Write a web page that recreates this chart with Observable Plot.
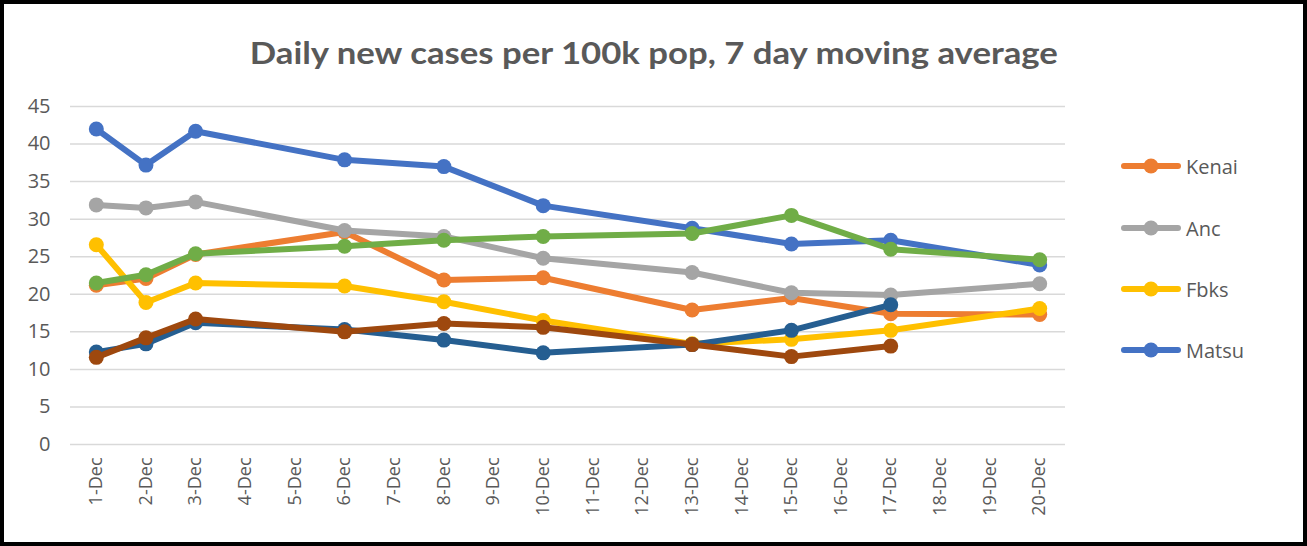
<!DOCTYPE html>
<html>
<head>
<meta charset="utf-8">
<script src="https://cdn.jsdelivr.net/npm/d3@7"></script>
<script src="https://cdn.jsdelivr.net/npm/@observablehq/plot@0.6"></script>
<style>
  html, body { margin: 0; padding: 0; background: #fff; }
  #wrap { position: relative; width: 1307px; height: 546px; overflow: hidden; background: #fff; font-family: "Open Sans", sans-serif; }
  #frame { position: absolute; left: 0; top: 0; width: 1307px; height: 546px; box-sizing: border-box; border: 4px solid #000; pointer-events: none; }
  #title { position: absolute; left: 0; top: 30px; width: 1307px; text-align: center; font-family: Lato, "Open Sans", sans-serif; font-weight: bold; font-size: 31px; color: #595959; white-space: nowrap; line-height: 44px; }
  #title span { display: inline-block; transform-origin: center center; }
  #chart { position: absolute; left: 0; top: 0; }
  #legend { position: absolute; left: 1120px; top: 0; }
  .item { position: absolute; left: 0; height: 24px; display: flex; align-items: center; font-size: 20px; color: #595959; white-space: nowrap; }
  .item svg { margin-right: 4px; }
</style>
</head>
<body>
<div id="wrap">
  <div id="chart"></div>
  <div id="title"><span>Daily new cases per 100k pop, 7 day moving average</span></div>
  <div id="legend"></div>
  <div id="frame"></div>
</div>
<script>
const days = ["1-Dec","2-Dec","3-Dec","4-Dec","5-Dec","6-Dec","7-Dec","8-Dec","9-Dec","10-Dec",
              "11-Dec","12-Dec","13-Dec","14-Dec","15-Dec","16-Dec","17-Dec","18-Dec","19-Dec","20-Dec"];
const dates = ["1-Dec","2-Dec","3-Dec","6-Dec","8-Dec","10-Dec","13-Dec","15-Dec","17-Dec","20-Dec"];
const yTicks = [0,5,10,15,20,25,30,35,40,45];

const seriesNames = ["Kenai","Anc","Fbks","Matsu","Series 5","Series 6","Series 7"];
const seriesColors = ["#ED7D31","#A5A5A5","#FFC000","#4472C4","#70AD47","#255E91","#9E480E"];
const legendNames = ["Kenai","Anc","Fbks","Matsu"];

const kenai   = [21.2,22.1,25.3,28.3,21.9,22.2,17.9,19.5,17.4,17.3];
const anc     = [31.9,31.5,32.3,28.5,27.7,24.8,22.9,20.2,19.9,21.4];
const fbks    = [26.6,18.9,21.5,21.1,19.0,16.5,13.4,14.0,15.2,18.1];
const matsu   = [42.0,37.2,41.7,37.9,37.0,31.8,28.8,26.7,27.2,23.9];
const series5 = [21.5,22.6,25.4,26.4,27.2,27.7,28.1,30.5,26.0,24.6];
const series6 = [12.3,13.4,16.2,15.3,13.9,12.2,13.3,15.2,18.6,null];
const series7 = [11.6,14.2,16.7,15.0,16.1,15.6,13.3,11.7,13.1,null];

const allValues = [kenai, anc, fbks, matsu, series5, series6, series7];

const rows = seriesNames.map((name, i) =>
  dates.map((d, j) => ({series: name, date: d, value: allValues[i][j]})).filter(r => r.value != null)
);

const seriesMarks = rows.flatMap(r => [
  Plot.line(r, {x: "date", y: "value", stroke: "series", strokeWidth: 6, strokeLinejoin: "round", strokeLinecap: "round"}),
  Plot.dot(r, {x: "date", y: "value", fill: "series", r: 7.5, stroke: "none"})
]);

const chart = Plot.plot({
  width: 1307,
  height: 546,
  marginLeft: 70,
  marginRight: 242,
  marginTop: 106,
  marginBottom: 102,
  style: {fontFamily: "'Open Sans', sans-serif", color: "#595959", background: "transparent"},
  x: {type: "point", domain: days, padding: 0.52, round: false},
  y: {domain: [0, 45]},
  color: {domain: seriesNames, range: seriesColors},
  marks: [
    Plot.ruleY(yTicks, {stroke: "#d9d9d9", strokeWidth: 1.5}),
    Plot.axisY({ticks: yTicks, tickSize: 0, tickPadding: 20, fontSize: 20, label: null}),
    Plot.axisX({tickSize: 0, tickPadding: 13, tickRotate: -90, fontSize: 18, label: null, style: {letterSpacing: "2px"}}),
    ...seriesMarks
  ]
});
document.getElementById("chart").appendChild(chart);

// legend
const legend = document.getElementById("legend");
const legendY = [166, 228, 289, 350];
legendNames.forEach((name, i) => {
  const color = seriesColors[seriesNames.indexOf(name)];
  const div = document.createElement("div");
  div.className = "item";
  div.style.top = (legendY[i] - 12) + "px";
  div.innerHTML = `<svg width="62" height="20"><line x1="4" x2="58" y1="10" y2="10" stroke="${color}" stroke-width="6" stroke-linecap="round"/><circle cx="31" cy="10" r="7.5" fill="${color}"/></svg><span>${name}</span>`;
  legend.appendChild(div);
});

// fit title width
const span = document.querySelector("#title span");
const w = span.getBoundingClientRect().width;
if (w > 0) span.style.transform = `scaleX(${808 / w})`;
</script>
</body>
</html>
